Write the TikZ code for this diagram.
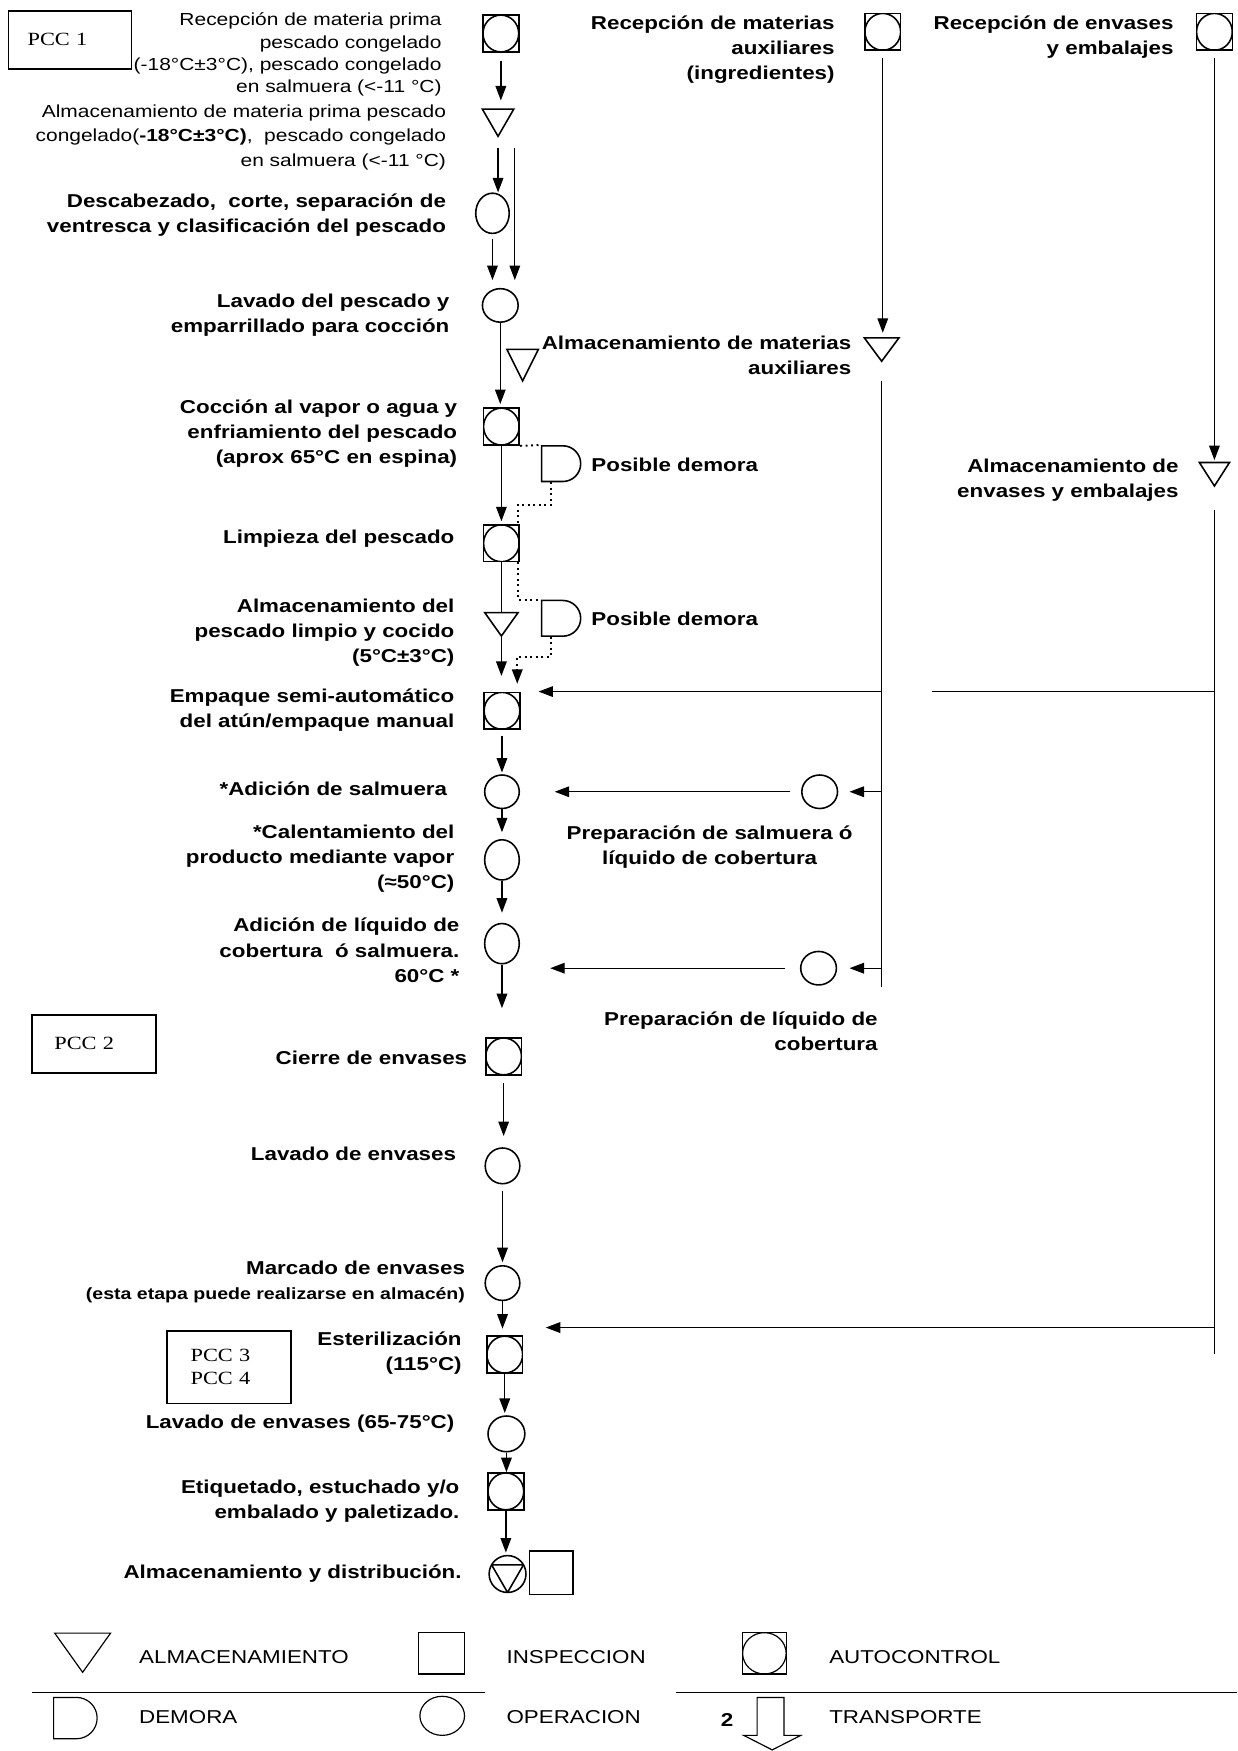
\documentclass[tikz,border=0pt]{standalone}
\usepackage{fontspec}
\setmainfont{Liberation Sans}[FakeStretch=1.2]
\newfontfamily\pccfont{Liberation Serif}[FakeStretch=1.2]
\usetikzlibrary{positioning,shapes.geometric,shapes.misc,arrows.meta,calc}
\tikzset{
  autoctl/.style={draw, line width=0.8pt, inner sep=0pt, minimum width=0.64cm, minimum height=0.66cm,
    path picture={\draw[line width=0.8pt] (path picture bounding box.center) ellipse (0.32cm and 0.33cm);}},
  oper/.style={draw, line width=0.8pt, ellipse, inner sep=0pt, minimum width=0.62cm, minimum height=0.66cm},
  store/.style={draw, line width=0.8pt, regular polygon, regular polygon sides=3, shape border rotate=180,
    inner sep=0pt, minimum size=0.65cm, anchor=north},
  delay/.style={draw, line width=0.8pt, rounded rectangle, rounded rectangle left arc=none, inner sep=0pt,
    minimum width=0.7cm, minimum height=0.64cm},
  pccbox/.style={draw, line width=0.8pt, anchor=north west, align=left, font=\pccfont\fontsize{9.5}{11.4}\selectfont},
  lbl/.style={anchor=east, align=right, inner sep=0pt, font=\bfseries\fontsize{9.5}{12.8}\selectfont},
  keytext/.style={anchor=west, inner sep=0pt, font=\fontsize{9.5}{11}\selectfont},
  waitline/.style={line width=1pt, dash pattern=on 1pt off 1.8pt}
}

\begin{document}
\begin{tikzpicture}[x=0.02cm, y=-0.02cm, line width=0.7pt, >={Triangle[length=0.26cm,width=0.19cm]}]
\useasboundingbox (0,0) rectangle (1108,1568);

% PCC boxes
\node[pccbox, inner xsep=0.34cm, text width=1.52cm, minimum height=1.04cm] (pcc1) at (7,9) {PCC 1};
\node[pccbox, inner xsep=0.4cm, text width=1.42cm, minimum height=1.04cm] (pcc2) at (28,908) {PCC 2};
\node[pccbox, inner xsep=0.42cm, text width=1.38cm, minimum height=1.3cm] (pcc3) at (149,1191) {PCC 3\\PCC 4};

% main column
\node[autoctl] (rmp) at (448.5,30) {};
\node[store, minimum size=0.65cm] (amp) at (446,97) {};
\node[oper, minimum width=0.6cm, minimum height=0.72cm] (desc) at (441,191) {};
\node[oper, minimum width=0.64cm, minimum height=0.6cm] (lav) at (448,273.5) {};
\node[store, minimum size=0.65cm, yscale=1.16] (sm) at (468,312) {};
\node[autoctl] (coc) at (449,382) {};
\node[delay] (d1) at (502.5,415.2) {};
\node[autoctl] (lim) at (449,486.5) {};
\node[delay] (d2) at (502.5,553.7) {};
\node[store, minimum size=0.69cm, yscale=0.81] (alm) at (449,548) {};
\node[autoctl] (emp) at (449.5,636.5) {};
\node[oper, minimum height=0.6cm] (ads) at (449.5,709) {};
\node[oper, minimum height=0.72cm] (cal) at (449.5,770) {};
\node[oper, minimum height=0.72cm] (adl) at (449.5,845) {};
\node[autoctl] (cie) at (451,946) {};
\node[oper, minimum height=0.64cm] (lve) at (450,1044) {};
\node[oper, minimum height=0.62cm] (mar) at (450,1149) {};
\node[autoctl] (est) at (452,1213) {};
\node[oper, minimum width=0.66cm, minimum height=0.64cm] (lv2) at (453.5,1284) {};
\node[autoctl] (eti) at (453,1335.5) {};
\node[oper, minimum width=0.66cm, minimum height=0.66cm,
  path picture={\draw ($(path picture bounding box.center)+(-14.3,-8.25)$) -- ($(path picture bounding box.center)+(14.3,-8.25)$)
    -- ($(path picture bounding box.center)+(0,16.5)$) -- cycle;}] (fin) at (454.5,1409.5) {};
\node[draw, line width=0.8pt, minimum width=0.78cm, minimum height=0.78cm] (insp) at (493.5,1408.5) {};

% side columns
\node[autoctl] (rma) at (790.5,28.5) {};
\node[store, minimum size=0.716cm, yscale=0.78] (sma) at (789.5,302) {};
\node[oper, minimum width=0.64cm, minimum height=0.6cm] (psa) at (734,709) {};
\node[oper, minimum width=0.64cm, minimum height=0.6cm] (plc) at (733,867) {};
\node[autoctl] (ren) at (1087.5,28.5) {};
\node[store, minimum size=0.624cm, yscale=0.9] (sen) at (1087.5,413.5) {};

% labels
\node[lbl, font=\fontsize{8.9}{11.4}\selectfont] (trmp) at (396,49) {Recepción de materia prima\\pescado congelado\\(-18°C±3°C), pescado congelado\\en salmuera (<-11 °C)};
\node[lbl, font=\fontsize{8.9}{12.5}\selectfont] (tamp) at (400,123) {Almacenamiento de materia prima pescado\\congelado(\textbf{-18°C±3°C)},\ \ pescado congelado\\en salmuera (<-11 °C)};
\node[lbl] (tdesc) at (400,192.5) {Descabezado,\ \ corte, separación de\\ventresca y clasificación del pescado};
\node[lbl] (tlav) at (403,282) {Lavado del pescado y\\emparrillado para cocción};
\node[lbl] (tsma) at (763,318) {Almacenamiento de materias\\auxiliares};
\node[lbl] (trma) at (748,44.5) {Recepción de materias\\auxiliares\\(ingredientes)};
\node[lbl] (tren) at (1051.5,33) {Recepción de envases\\y embalajes};
\node[lbl] (tsen) at (1056,430) {Almacenamiento de\\envases y embalajes};
\node[lbl] (tcoc) at (410,388) {Cocción al vapor o agua y\\enfriamiento del pescado\\(aprox 65°C en espina)};
\node[lbl, anchor=west] (td1) at (529,416.5) {Posible demora};
\node[lbl] (tlim) at (407.5,482) {Limpieza del pescado};
\node[lbl, anchor=west] (td2) at (529,554.6) {Posible demora};
\node[lbl] (talm) at (407.5,566.5) {Almacenamiento del\\pescado limpio y cocido\\(5°C±3°C)};
\node[lbl] (temp) at (407.5,636) {Empaque semi-automático\\del atún/empaque manual};
\node[lbl] (tads) at (401,706) {*Adición de salmuera};
\node[lbl] (tcal) at (407.5,769) {*Calentamiento del\\producto mediante vapor\\(≈50°C)};
\node[lbl] (tadl) at (412,851) {Adición de líquido de\\cobertura\ \ ó salmuera.\\60°C *};
\node[lbl, anchor=center, align=center] (tpsa) at (635.5,758.5) {Preparación de salmuera ó\\líquido de cobertura};
\node[lbl] (tplc) at (786.5,923.5) {Preparación de líquido de\\cobertura};
\node[lbl] (tcie) at (419,947) {Cierre de envases};
\node[lbl] (tlve) at (409,1033) {Lavado de envases};
\node[lbl] (tmar) at (417,1148) {Marcado de envases\\{\fontsize{8.3}{10}\selectfont (esta etapa puede realizarse en almacén)}};
\node[lbl] (test) at (414,1212) {Esterilización\\(115°C)};
\node[lbl] (tlv2) at (407.5,1275) {Lavado de envases (65-75°C)};
\node[lbl] (teti) at (412,1344) {Etiquetado, estuchado y/o\\embalado y paletizado.};
\node[lbl] (tfin) at (414,1409) {Almacenamiento y distribución.};

% main flow
\draw[->, shorten <=0.14cm, shorten >=0.14cm] (rmp.south) -- (rmp.south |- amp.north);
\draw[->, shorten <=0.18cm] (amp.south) -- (amp.south |- desc.north);
\coordinate (split) at ($(amp.south)+(15,9)$);
\draw[->, shorten >=0.14cm] (split) -- (split |- lav.north);
\draw[->, shorten <=0.08cm, shorten >=0.14cm] (desc.south) -- (desc.south |- lav.north);
\draw[->, shorten >=0.06cm] (lav.south) -- (lav.south |- coc.north);
\draw[->, shorten >=0.05cm] (coc.south) -- (coc.south |- lim.north);
\draw (lim.south) -- (lim.south |- alm.north);
\draw[->, shorten >=0.28cm] (alm.south) -- (alm.south |- emp.north);
\draw[->, shorten <=0.1cm, shorten >=0.03cm] (emp.south) -- (emp.south |- ads.north);
\draw[->, shorten >=0.12cm] (ads.south) -- (ads.south |- cal.north);
\draw[->, shorten >=0.18cm] (cal.south) -- (cal.south |- adl.north);
\draw[->, shorten >=0.52cm] (adl.south) -- (adl.south |- cie.north);
\draw[->, shorten <=0.14cm, shorten >=0.2cm] (cie.south) -- (cie.south |- lve.north);
\draw[->, shorten <=0.12cm, shorten >=0.05cm] (lve.south) -- (lve.south |- mar.north);
\draw[->, shorten >=0.12cm] (mar.south) -- (mar.south |- est.north);
\draw[->, shorten >=0.04cm] (est.south) -- (est.south |- lv2.north);
\draw[->] (lv2.south) -- (lv2.south |- eti.north);
\draw[->, shorten >=0.04cm] (eti.south) -- (eti.south |- fin.north);

% possible delays
\draw[waitline] (coc.south east) -- (d1.north west);
\draw[waitline] ($(d1.south west)+(9,0)$) |- ($(lim.north east)+(-2,-17)$) -- ($(lim.north east)+(-2,0)$);
\draw[waitline] ($(lim.south east)+(-2,0)$) |- (d2.north west);
\draw[waitline, ->] ($(d2.south west)+(9,0)$) |- ($(emp.north east)+(-3,-31)$) -- ($(emp.north east)+(-3,-7)$);

% auxiliary materials
\draw[->, shorten <=0.12cm, shorten >=0.08cm] (rma.south) -- (rma.south |- sma.north);
\coordinate (auxtop) at ($(sma.south)+(0,17)$);
\coordinate (auxbot) at ($(auxtop)+(0,542)$);
\draw (auxtop) -- (auxbot);
\draw[->, shorten >=0.32cm] (auxtop |- emp.north) -- (emp.north east);
\draw[->, shorten >=0.2cm] (auxtop |- psa) -- (psa.east);
\draw[->, shorten <=0.19cm, shorten >=0.62cm] (psa.west) -- (ads.east);
\draw[->, shorten >=0.22cm] (auxtop |- plc) -- (plc.east);
\draw[->, shorten <=0.26cm, shorten >=0.54cm] (plc.west) -- (plc.west -| adl.east);

% containers
\draw[->, shorten <=0.12cm, shorten >=0.03cm] (ren.south) -- (ren.south |- sen.north);
\coordinate (envtop) at ($(sen.south)+(0,20)$);
\coordinate (envbot) at ($(envtop)+(0,756)$);
\draw (envtop) -- (envbot);
\coordinate (gapend) at ($(auxtop |- emp.north)+(45,0)$);
\draw (envtop |- emp.north) -- (gapend);
\coordinate (estin) at ($(est.north east)+(0,-7)$);
\draw[->, shorten >=0.4cm] (envtop |- estin) -- (estin);

% legend
\draw[line width=0.8pt] (29,1515.5) -- (434,1515.5);
\draw[line width=0.8pt] (605,1515.5) -- (1108,1515.5);
\node[store, line width=0.6pt, minimum size=1.155cm, yscale=0.81] (kstore) at (74,1462) {};
\node[draw, line width=0.6pt, minimum width=0.82cm, minimum height=0.74cm] (kinsp) at (395.5,1480.5) {};
\node[autoctl, line width=0.6pt, minimum width=0.78cm, minimum height=0.74cm,
  path picture={\draw (path picture bounding box.center) ellipse (0.39cm and 0.37cm);}] (kauto) at (684.5,1480.5) {};
\node[delay, line width=0.6pt, minimum width=0.78cm, minimum height=0.74cm] (kdelay) at (67.5,1538.5) {};
\node[oper, line width=0.6pt, minimum width=0.8cm, minimum height=0.7cm] (koper) at (396,1536.5) {};
\draw[line width=0.6pt] (678,1520) -- (702,1520) -- (702,1554) -- (717,1554) -- (691.5,1567) -- (666,1554) -- (678,1554) -- cycle;
\node[font=\bfseries\fontsize{9.5}{10}\selectfont, inner sep=0pt] (knum) at (651,1540) {2};
\node[keytext] (kt1) at (124,1484) {ALMACENAMIENTO};
\node[keytext] (kt2) at (453,1484) {INSPECCION};
\node[keytext] (kt3) at (742,1484) {AUTOCONTROL};
\node[keytext] (kt4) at (124,1538) {DEMORA};
\node[keytext] (kt5) at (453,1538) {OPERACION};
\node[keytext] (kt6) at (742,1538) {TRANSPORTE};
\end{tikzpicture}
\end{document}
